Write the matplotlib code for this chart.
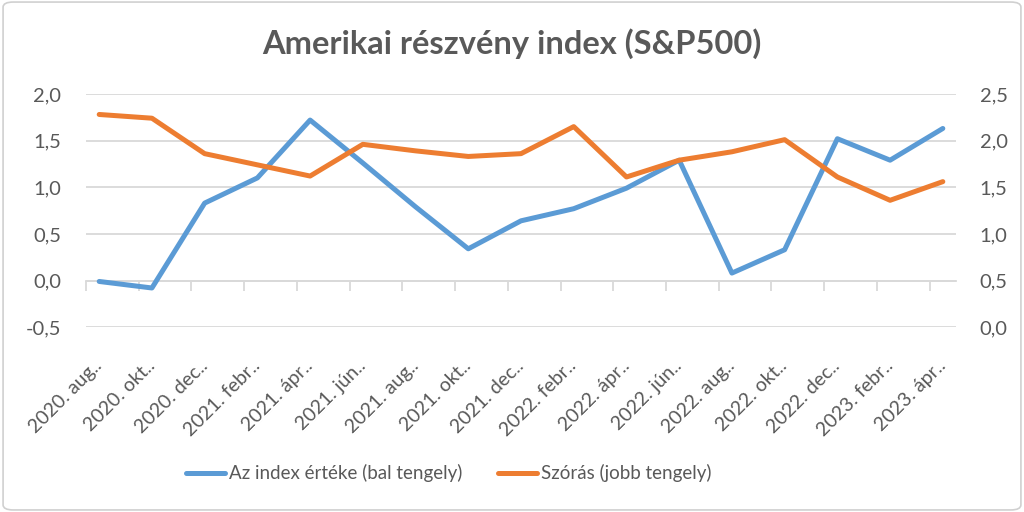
import numpy as np
import matplotlib
matplotlib.use("Agg")
import matplotlib.pyplot as plt
from matplotlib.ticker import FixedLocator, FuncFormatter
from matplotlib.patches import FancyBboxPatch

# adatok
honapok = ["2020. aug..", "2020. okt..", "2020. dec..", "2021. febr..", "2021. ápr..",
           "2021. jún..", "2021. aug..", "2021. okt..", "2021. dec..", "2022. febr..",
           "2022. ápr..", "2022. jún..", "2022. aug..", "2022. okt..", "2022. dec..",
           "2023. febr..", "2023. ápr.."]
index_ertek = [-0.01, -0.08, 0.83, 1.10, 1.72, 1.26, 0.79, 0.34, 0.64, 0.77,
               0.99, 1.29, 0.08, 0.33, 1.52, 1.29, 1.63]
szoras = [2.28, 2.24, 1.86, 1.74, 1.62, 1.96, 1.89, 1.83, 1.86, 2.15,
          1.61, 1.79, 1.88, 2.01, 1.61, 1.36, 1.56]

plt.rcParams['font.family'] = ['Lato', 'DejaVu Sans']
szurke = '#595959'
racs = '#D9D9D9'

def vesszo(v, pos):
    return ("%.1f" % v).replace('.', ',')

fig = plt.figure(figsize=(10.24, 5.12), dpi=100)
fig.patches.append(FancyBboxPatch((0.003, 0.004), 0.994, 0.992, boxstyle="round,pad=0,rounding_size=0.01",
                                  transform=fig.transFigure, fill=False, edgecolor='#D0D0D0', linewidth=1.2))
ax = fig.add_axes([0.084, 0.361, 0.8496, 0.4555])
ax2 = ax.twinx()

x = np.arange(len(honapok))
l1, = ax.plot(x, index_ertek, color='#5B9BD5', linewidth=3.6, solid_capstyle='round',
              label='Az index értéke (bal tengely)', zorder=3)
l2, = ax2.plot(x, szoras, color='#ED7D31', linewidth=3.6, solid_capstyle='round',
               label='Szórás (jobb tengely)', zorder=3)

ax.set_xlim(-0.25, len(honapok) - 0.75)
ax.set_ylim(-0.5, 2.0)
ax2.set_ylim(0.0, 2.5)
ax.set_yticks(np.arange(-0.5, 2.01, 0.5))
ax2.set_yticks(np.arange(0.0, 2.51, 0.5))
ax.yaxis.set_major_formatter(FuncFormatter(vesszo))
ax2.yaxis.set_major_formatter(FuncFormatter(vesszo))
ax.grid(axis='y', color=racs, linewidth=1.3)
ax.set_axisbelow(True)

for a in (ax, ax2):
    for s in a.spines.values():
        s.set_visible(False)
    a.tick_params(axis='y', length=0, labelsize=14.5, labelcolor=szurke)
ax.tick_params(axis='y', pad=18)
ax2.tick_params(axis='y', pad=17)

ax.set_xticks(x)
ax.set_xticklabels(honapok, rotation=45, ha='right', rotation_mode='anchor', va='center')
ax.tick_params(axis='x', length=0, labelsize=14, labelcolor=szurke, pad=26)

# vizszintes tengely a 0-nal, osztasjelekkel
tengely = ax.secondary_xaxis(0.2)
tengely.spines['bottom'].set_color(racs)
tengely.spines['bottom'].set_linewidth(1.3)
tengely.xaxis.set_major_locator(FixedLocator(np.arange(len(honapok)) - 0.25))
tengely.tick_params(axis='x', direction='out', length=7, width=1.3, color=racs, labelbottom=False)

fig.text(0.5, 0.915, 'Amerikai részvény index (S&P500)', ha='center', va='center',
         fontsize=23.5, fontweight='bold', color=szurke)

fig.legend(handles=[l1, l2], loc='center', bbox_to_anchor=(0.438, 0.076), ncol=2, frameon=False,
           fontsize=13.5, labelcolor=szurke, handlelength=2.1, handletextpad=0.2, columnspacing=1.9)

fig.savefig('out.png', dpi=100)
